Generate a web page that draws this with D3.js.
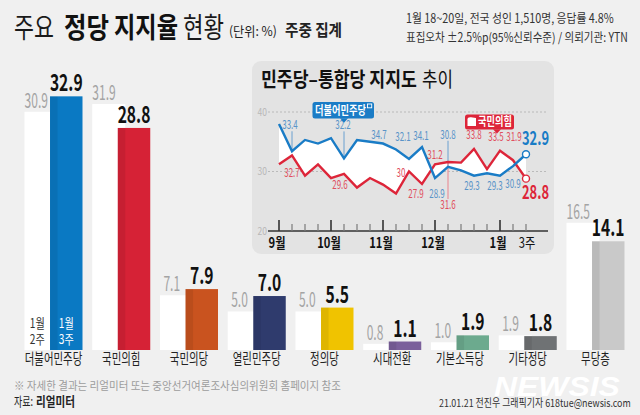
<!DOCTYPE html>
<html><head><meta charset="utf-8">
<script src="https://cdn.jsdelivr.net/npm/d3@7"></script>
<style>html,body{margin:0;padding:0;background:#f0f0f0;} svg{display:block;}</style>
</head><body><svg id="c" width="640" height="415"></svg>
<script>
// ---------------- data ----------------
const categories = ['더불어민주당','국민의힘','국민의당','열린민주당','정의당','시대전환','기본소득당','기타정당','무당층'];
const prevValues = [30.9, 31.9, 7.1, 5.0, 5.0, 0.8, 1.0, 1.9, 16.5];   // 1월 2주
const currValues = [32.9, 28.8, 7.9, 7.0, 5.5, 1.1, 1.9, 1.8, 14.1];   // 1월 3주
const partyColors = ['#0a79c3','#d62236','#c9531f','#2f3b6d','#f0c300','#7b609b','#6caa8e','#6f7274','#c9c9c9'];
const periodLabels = [['1월','2주'], ['1월','3주']];

const trendWeeks = ['9월1주','9월2주','9월3주','9월4주','10월1주','10월2주','10월3주','10월4주',
  '11월1주','11월2주','11월3주','11월4주','12월1주','12월2주','12월3주','12월4주','12월5주',
  '1월1주','1월2주','1월3주'];
const minjuTrend = [38.0,33.4,35.3,34.7,35.6,32.2,35.3,35.0,34.7,33.7,32.1,34.1,28.9,30.8,30.2,29.3,29.7,29.3,30.9,32.9];
const ppTrend    = [31.2,32.7,29.3,31.2,28.9,29.6,27.3,28.9,27.8,26.3,30.0,27.9,31.2,31.6,31.5,33.8,30.4,33.5,31.9,28.8];
const monthTicks = [['9월1주','9월'],['10월1주','10월'],['11월1주','11월'],['12월1주','12월'],['1월1주','1월']];
const trendYTicks = [20, 30, 40];

// label placement (offsets from the point: dx, dy to baseline, leader?)
const minjuLabels = [[1,-2,-22,1],[5,-1,-29,1],[8,-4,-5,0],[10,-6,-18,0],[11,-1,-7,0],[12,2,19.5,0],[13,0,-28,1],[15,-2,14,0],[17,-5,14,0],[18,0,21.5,0]];
const ppLabels    = [[1,0,22,0],[5,-4,15.5,0],[10,-8,5,0],[11,-6,14,0],[12,0,-5,0],[13,0,47,1],[15,0,-9.5,0],[17,-4,-9.5,0],[18,1,-19.5,0]];

// ---------------- helpers ----------------
const F = "'Noto Sans CJK KR','Noto Sans KR','Noto Sans',sans-serif";
function T(parent, s, x, y, o = {}) {
  const t = parent.append('text').text(s)
    .attr('font-family', o.family || F)
    .attr('font-size', o.size || 12)
    .attr('font-weight', o.weight || 400)
    .attr('font-style', o.style || 'normal')
    .attr('fill', o.fill || '#222')
    .attr('text-anchor', o.anchor || 'start');
  let sx = o.sx || 1;
  if (o.w) { const w = t.node().getComputedTextLength(); if (w > 0) sx = o.w / w; }
  t.attr('transform', `translate(${x},${y}) scale(${sx},1)`);
  return t;
}

const svg = d3.select('#c');
svg.append('rect').attr('width', 640).attr('height', 415).attr('fill', '#f0f0f0');

// ---------------- header ----------------
T(svg, '주요', 14, 37.5, {size: 28, w: 40, fill: '#1a1a1a'});
T(svg, '정당', 64, 37.5, {size: 28, weight: 700, w: 45, fill: '#111'});
T(svg, '지지율', 114, 37.5, {size: 28, weight: 700, w: 64, fill: '#111'});
T(svg, '현황', 183, 37.5, {size: 28, w: 41, fill: '#1a1a1a'});
T(svg, '(단위: %)', 229, 35.5, {size: 13, w: 48, fill: '#222'});
T(svg, '주중 집계', 285, 35.5, {size: 16, weight: 700, w: 57, fill: '#222'});
T(svg, '1월 18~20일, 전국 성인 1,510명, 응답률 4.8%', 406, 23, {size: 12.5, w: 208, fill: '#333'});
T(svg, '표집오차 ±2.5%p(95%신뢰수준) / 의뢰기관: YTN', 406, 42, {size: 12.5, w: 222, fill: '#333'});

// ---------------- bar chart ----------------
const xBand = d3.scaleBand().domain(categories).range([24.5, 624.5]).paddingInner(0.1439).paddingOuter(0);
const bw = xBand.bandwidth();
const yBar = d3.scaleLinear().domain([0, 35]).range([350, 80.15]);
const wPrev = bw * 0.57, xCurr = bw * 0.44, wCurr = bw * 0.56;

const bars = svg.append('g');
categories.forEach((c, i) => {
  const x0 = xBand(c);
  bars.append('rect').attr('x', x0).attr('y', yBar(prevValues[i])).attr('width', wPrev)
    .attr('height', yBar(0) - yBar(prevValues[i])).attr('fill', '#fff');
  bars.append('rect').attr('x', x0 + xCurr).attr('y', yBar(currValues[i])).attr('width', wCurr)
    .attr('height', yBar(0) - yBar(currValues[i])).attr('fill', partyColors[i]);
  bars.append('rect').attr('x', x0 + xCurr).attr('y', yBar(currValues[i])).attr('width', wPrev - xCurr)
    .attr('height', yBar(0) - yBar(currValues[i])).attr('fill', '#000').attr('opacity', 0.07);
  T(bars, prevValues[i].toFixed(1), x0 + xCurr / 2 - 1, yBar(prevValues[i]) - 4,
    {size: 20, fill: '#a4a4a4', sx: 0.6, anchor: 'middle'});
  const end = i === categories.length - 1;
  T(bars, currValues[i].toFixed(1), end ? x0 + xCurr + wCurr : x0 + xCurr + wCurr / 2, yBar(currValues[i]) - 5,
    {size: 23, weight: 700, fill: '#111', sx: 0.68, anchor: end ? 'end' : 'middle'});
  T(bars, c, x0 + bw / 2, 364, {size: 14.5, fill: '#222', sx: 0.72, anchor: 'middle'});
});
{
  const x0 = xBand(categories[0]);
  const centers = [x0 + xCurr / 2, x0 + xCurr + wCurr / 2];
  const fills = ['#333', '#fff'];
  periodLabels.forEach((lines, k) => {
    const t = bars.append('text').attr('font-family', F).attr('font-size', 13).attr('fill', fills[k])
      .attr('text-anchor', 'middle').attr('transform', `translate(${centers[k]},328) scale(0.78,1)`);
    lines.forEach((s, j) => t.append('tspan').attr('x', 0).attr('y', j * 15.5).text(s));
  });
}

// ---------------- inset trend chart ----------------
const ins = svg.append('g');
ins.append('rect').attr('x', 252).attr('y', 61).attr('width', 302).attr('height', 193).attr('rx', 9).attr('fill', '#e3e3e3');
T(ins, '민주당–통합당 지지도', 261, 87, {size: 20, weight: 700, w: 156, fill: '#111'});
T(ins, '추이', 422, 87, {size: 20, w: 31, fill: '#111'});

const xT = d3.scalePoint().domain(trendWeeks).range([279, 526]);
const yT = d3.scaleLinear().domain([20, 40]).range([231, 112]);
const xL = 268, xR = 548;

trendYTicks.forEach(v => {
  if (v !== 20) {
    ins.append('line').attr('x1', xL).attr('x2', xR).attr('y1', yT(v)).attr('y2', yT(v))
      .attr('stroke', '#a8a8a8').attr('stroke-width', 0.7).attr('stroke-dasharray', '2,2');
  }
  T(ins, String(v), 267, yT(v) + 3.5, {size: 10, fill: '#b8b8b8', anchor: 'end', sx: 0.85});
});

const area = d3.area().x((d, i) => xT(trendWeeks[i])).y0((d, i) => yT(ppTrend[i])).y1((d, i) => yT(minjuTrend[i]));
ins.append('path').datum(minjuTrend).attr('d', area).attr('fill', '#fff');

ins.append('line').attr('x1', xL).attr('x2', xR).attr('y1', yT(20)).attr('y2', yT(20)).attr('stroke', '#333').attr('stroke-width', 1.5);
const majorSet = new Set(monthTicks.map(m => m[0]));
trendWeeks.forEach(w => {
  const major = majorSet.has(w);
  ins.append('line').attr('x1', xT(w)).attr('x2', xT(w)).attr('y1', yT(20)).attr('y2', yT(20) - (major ? 11 : 7))
    .attr('stroke', major ? '#333' : '#7a7a7a').attr('stroke-width', major ? 1.6 : 1.2);
});
monthTicks.forEach(([w, lab]) => T(ins, lab, xT(w) - 2, 247.5, {size: 14, weight: 700, fill: '#111', sx: 0.8, anchor: 'middle'}));
T(ins, '3주', xT(trendWeeks[trendWeeks.length - 1]) + 1, 247.5, {size: 14, fill: '#111', sx: 0.8, anchor: 'middle'});

const BL = '#5a94c8', RL = '#e0505f';
minjuLabels.forEach(([i, dx, dy, lead]) => {
  const px = xT(trendWeeks[i]), py = yT(minjuTrend[i]);
  if (lead) ins.append('line').attr('x1', px).attr('x2', px).attr('y1', py + dy + 2).attr('y2', py).attr('stroke', '#6aa0d0').attr('stroke-width', 1);
});
ppLabels.forEach(([i, dx, dy, lead]) => {
  const px = xT(trendWeeks[i]), py = yT(ppTrend[i]);
  if (lead) ins.append('line').attr('x1', px).attr('x2', px).attr('y1', py).attr('y2', py + dy - 10).attr('stroke', '#e8939b').attr('stroke-width', 1.2);
});

const line = arr => d3.line().x((d, i) => xT(trendWeeks[i])).y(d => yT(d))(arr);
ins.append('path').attr('d', line(ppTrend)).attr('fill', 'none').attr('stroke', '#dd2539').attr('stroke-width', 2.4);
ins.append('path').attr('d', line(minjuTrend)).attr('fill', 'none').attr('stroke', '#1a7cc6').attr('stroke-width', 2.4);

const last = trendWeeks.length - 1;
ins.append('circle').attr('cx', xT(trendWeeks[last])).attr('cy', yT(minjuTrend[last])).attr('r', 3.5).attr('fill', '#fff').attr('stroke', '#1a7cc6').attr('stroke-width', 1.4);
ins.append('circle').attr('cx', xT(trendWeeks[last])).attr('cy', yT(ppTrend[last])).attr('r', 3.5).attr('fill', '#fff').attr('stroke', '#dd2539').attr('stroke-width', 1.4);

minjuLabels.forEach(([i, dx, dy]) => {
  T(ins, minjuTrend[i].toFixed(1), xT(trendWeeks[i]) + dx, yT(minjuTrend[i]) + dy, {size: 12.5, fill: BL, sx: 0.64, anchor: 'middle'});
});
ppLabels.forEach(([i, dx, dy]) => {
  const v = ppTrend[i];
  T(ins, Number.isInteger(v) ? String(v) : v.toFixed(1), xT(trendWeeks[i]) + dx, yT(v) + dy, {size: 12.5, fill: RL, sx: 0.64, anchor: 'middle'});
});
T(ins, minjuTrend[last].toFixed(1), xT(trendWeeks[last]) + 9.5, yT(minjuTrend[last]) - 9, {size: 19, weight: 700, fill: '#1a7cc6', sx: 0.68, anchor: 'middle'});
T(ins, ppTrend[last].toFixed(1), xT(trendWeeks[last]) + 9.5, yT(ppTrend[last]) + 20.5, {size: 19, weight: 700, fill: '#dd2539', sx: 0.68, anchor: 'middle'});

{
  const tx = xT(trendWeeks[5]);
  ins.append('rect').attr('x', tx - 31.5).attr('y', 102).attr('width', 61.5).attr('height', 16.5).attr('rx', 2.5).attr('fill', '#1a7cc6');
  ins.append('path').attr('d', `M${tx - 4},118.3L${tx + 4},118.3L${tx},122.8Z`).attr('fill', '#1a7cc6');
  T(ins, '더불어민주당', tx - 29, 114.5, {size: 12, weight: 700, fill: '#fff', w: 51});
  ins.append('rect').attr('x', tx + 23.5).attr('y', 104).attr('width', 4.2).attr('height', 3.8).attr('fill', 'none').attr('stroke', '#fff').attr('stroke-width', 0.9);
}
{
  const tx = xT(trendWeeks[17]) - 3;
  ins.append('rect').attr('x', tx - 32).attr('y', 114.5).attr('width', 49).attr('height', 15).attr('rx', 2.5).attr('fill', '#dd2539');
  ins.append('path').attr('d', `M${tx - 4},129.3L${tx + 4},129.3L${tx},133.5Z`).attr('fill', '#dd2539');
  ins.append('path').attr('d', `M${tx - 29.5},119.5 Q${tx - 29.5},117 ${tx - 26},117.3 L${tx - 21},118.1 L${tx - 21},126 L${tx - 29.5},126 Z`).attr('fill', '#fff');
  T(ins, '국민의힘', tx - 19, 126.3, {size: 12, weight: 700, fill: '#fff', w: 34});
}

// ---------------- footer ----------------
T(svg, '※ 자세한 결과는 리얼미터 또는 중앙선거여론조사심의위원회 홈페이지 참조', 14, 389.5, {size: 11.5, w: 327, fill: '#9c9c9c'});
T(svg, '자료:', 14, 405.5, {size: 13, w: 19, fill: '#222'});
T(svg, '리얼미터', 36, 405.5, {size: 13, weight: 700, w: 39, fill: '#222'});
T(svg, 'NEWSIS', 494, 396, {size: 28, weight: 700, style: 'italic', family: "'Liberation Sans',Arial,sans-serif", w: 126, fill: '#ffffff'});
T(svg, '21.01.21 전진우 그래픽기자 618tue@newsis.com', 439, 407, {size: 11, w: 192, fill: '#333'});
</script>
</body></html>
